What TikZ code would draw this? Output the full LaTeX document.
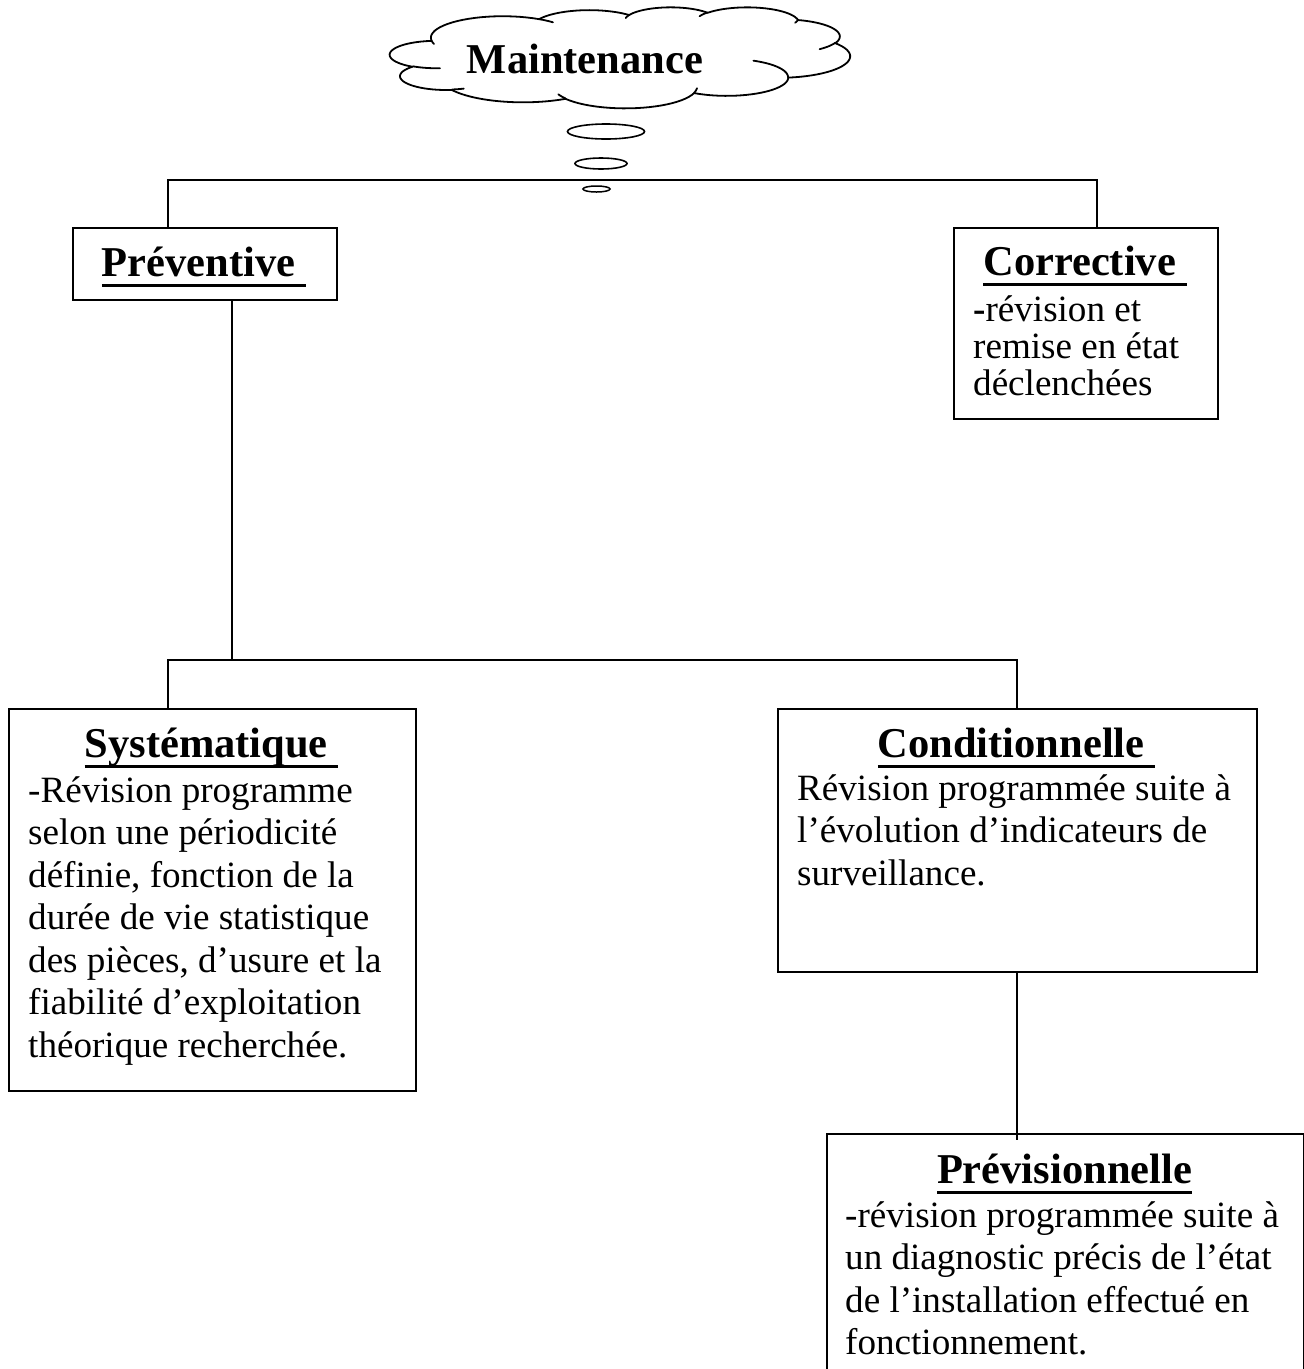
\documentclass[tikz,border=0pt]{standalone}
\usepackage{fontspec}
\setmainfont{Liberation Serif}[Ligatures=CommonOff]

% bold title with a thick underline drawn under the whole box (trailing space included)
\newcommand\ulbold[1]{\setbox0\hbox{#1}\rlap{\vrule height -7.5pt depth 10.5pt width \wd0}\box0}
% several left-aligned lines, baseline on the first one
\newcommand\txtlines[1]{\begin{tabular}[t]{@{}l@{}}#1\end{tabular}}

% cloud outline built from elliptic arcs (shape units 0..432)
\newcommand\cldmove[2]{\xdef\cpx{#1}\xdef\cpy{#2}\xdef\cldpath{(#1,#2)}}
\newcommand\cldarc[4]{%
  \pgfmathsetmacro\cta{atan2((#1)*sin(#3),(#2)*cos(#3))}%
  \pgfmathsetmacro\ctb{atan2((#1)*sin(#3+#4),(#2)*cos(#3+#4))}%
  \pgfmathsetmacro\ctb{\ctb<\cta ? \ctb+360 : \ctb}%
  \pgfmathsetmacro\ccx{\cpx-(#1)*cos(\cta)}%
  \pgfmathsetmacro\ccy{\cpy-(#2)*sin(\cta)}%
  \foreach \k in {1,...,24}{%
    \pgfmathsetmacro\cpt{\cta+(\ctb-\cta)*\k/24}%
    \pgfmathsetmacro\cqx{\ccx+(#1)*cos(\cpt)}%
    \pgfmathsetmacro\cqy{\ccy+(#2)*sin(\cpt)}%
    \xdef\cldpath{\cldpath -- (\cqx,\cqy)}%
  }%
  \pgfmathsetmacro\cqx{\ccx+(#1)*cos(\ctb)}%
  \pgfmathsetmacro\cqy{\ccy+(#2)*sin(\ctb)}%
  \xdef\cpx{\cqx}\xdef\cpy{\cqy}%
}
\newcommand\cldstroke[6]{%
  \cldmove{#1}{#2}\cldarc{#3}{#4}{#5}{#6}%
  \edef\cldcmd{\noexpand\draw[cloudline]\cldpath;}\cldcmd}

\begin{document}
\begin{tikzpicture}[x=1pt,y=-1pt,
  box/.style={draw, line width=1.7pt, inner sep=0pt, anchor=north west},
  link/.style={line width=1.4pt},
  ttl/.style={inner sep=0pt, anchor=base, font=\fontsize{42.5}{48}\selectfont\bfseries},
  body/.style={inner sep=0pt, anchor=base west, font=\fontsize{37.1}{42.5}\selectfont},
  cloudline/.style={line width=1.8pt, line join=round, line cap=round},
]
\useasboundingbox[fill=white] (0,0) rectangle (1304,1369);

% ---- thought cloud
\begin{scope}[shift={(390,7)}, xscale=1.0648, yscale=0.2338]
  \cldmove{39}{143.70}%
  \cldarc{67.53}{91.90}{-190.48748}{123.78053}%
  \cldarc{53.33}{72.67}{-144.10238}{89.94523}%
  \cldarc{43.65}{59.45}{-145.80792}{99.72302}%
  \cldarc{48.57}{65.95}{-130.98607}{117.24173}%
  \cldarc{53.33}{72.73}{-78.70888}{109.02692}%
  \cldarc{67.75}{92.20}{-46.26725}{130.269}%
  \cldarc{57.85}{78.67}{0.62502}{114.03333}%
  \cldarc{67.52}{92.15}{22.4516}{115.17255}%
  \cldarc{77.20}{105.43}{66.24263}{75.71102}%
  \cldarc{43.60}{59.18}{-274.94208}{146.73557}%
  \cldarc{43.45}{59.45}{-246.8285}{152.51885}%
  \edef\cldcmd{\noexpand\draw[cloudline, fill=white]\cldpath -- cycle;}\cldcmd
  % inner fold strokes
  \cldstroke{46.93}{261.77}{43.45}{59.45}{86.742}{26.4295}%
  \cldstroke{69.28}{348.99}{43.60}{59.18}{73.6105}{11.4475}%
  \cldstroke{164.78}{390.90}{67.52}{92.15}{137.6242}{14.0811}%
  \cldstroke{288.27}{347.51}{67.52}{92.15}{6.4533}{15.9984}%
  \cldstroke{341.29}{229.54}{57.85}{78.67}{-70.2924}{70.9174}%
  \cldstroke{417.98}{153.54}{53.33}{72.73}{30.318}{27.7515}%
  \cldstroke{383.24}{54.26}{48.57}{65.95}{13.7443}{14.8589}%
  \cldstroke{290.78}{39.52}{48.57}{65.95}{-149.1815}{18.1954}%
  \cldstroke{221.41}{47.20}{43.65}{59.45}{-163.4943}{17.6864}%
  \cldstroke{140.00}{51.92}{67.53}{91.90}{-66.7070}{12.3194}%
  \cldstroke{41.27}{157.89}{67.53}{91.90}{157.6544}{11.8582}%
\end{scope}
\node[ttl] (maint) at (585,73) {Maintenance};

% trailing bubbles
\draw[line width=1.6pt] (606,131.5) ellipse [x radius=38.5, y radius=7.5];
\draw[line width=1.6pt] (601,163.5) ellipse [x radius=26, y radius=5.5];
\draw[line width=1.5pt] (596.5,189) ellipse [x radius=13.5, y radius=3];

% ---- boxes
\node[box, minimum width=264pt, minimum height=72pt]  (prev) at (72,227) {};
\node[box, minimum width=264pt, minimum height=191pt] (corr) at (953,227) {};
\node[box, minimum width=407pt, minimum height=382pt] (sys)  at (8,708) {};
\node[box, minimum width=479pt, minimum height=263pt] (cond) at (777,708) {};
\node[box, minimum width=477pt, minimum height=270pt] (fore) at (826,1133) {};

% ---- titles
\node[ttl] (prevt) at (204,276)    {\ulbold{Préventive\ }};
\node[ttl] (corrt) at (1085,275)   {\ulbold{Corrective\ }};
\node[ttl] (syst)  at (211.5,757)  {\ulbold{Systématique\ }};
\node[ttl] (condt) at (1016.5,757) {\ulbold{Conditionnelle\ }};
\node[ttl] (foret) at (1064.5,1183){\ulbold{Prévisionnelle}};

% ---- texts
\node[body, font=\fontsize{37.1}{37}\selectfont] (corrb) at (973,321)
  {\txtlines{\textbf{-}révision et\\remise en état\\déclenchées}};
\node[body] (sysb) at (28,802)
  {\txtlines{-Révision programme\\selon une périodicité\\définie, fonction de la\\durée de vie statistique\\des pièces, d’usure et la\\fiabilité d’exploitation\\théorique recherchée.}};
\node[body] (condb) at (797,800)
  {\txtlines{Révision programmée suite à\\l’évolution d’indicateurs de\\surveillance.}};
\node[body] (foreb) at (845,1227)
  {\txtlines{-révision programmée suite à\\un diagnostic précis de l’état\\de l’installation effectué en\\fonctionnement.}};

% ---- connectors
\coordinate (ja) at (168,180);
\coordinate (jb) at (1097,180);
\coordinate (jc) at (232,660);
\coordinate (jd) at (168,660);
\coordinate (je) at (1017,660);
\coordinate (jf) at (1017,1140);
\draw[link] (prev.north -| ja) -- (ja) -- (jb) -- (corr.north -| jb);
\draw[link] (prev.south -| jc) -- (jc);
\draw[link] (sys.north -| jd) -- (jd) -- (je) -- (cond.north -| je);
\draw[link] (cond.south -| jf) -- (jf);
\end{tikzpicture}
\end{document}
